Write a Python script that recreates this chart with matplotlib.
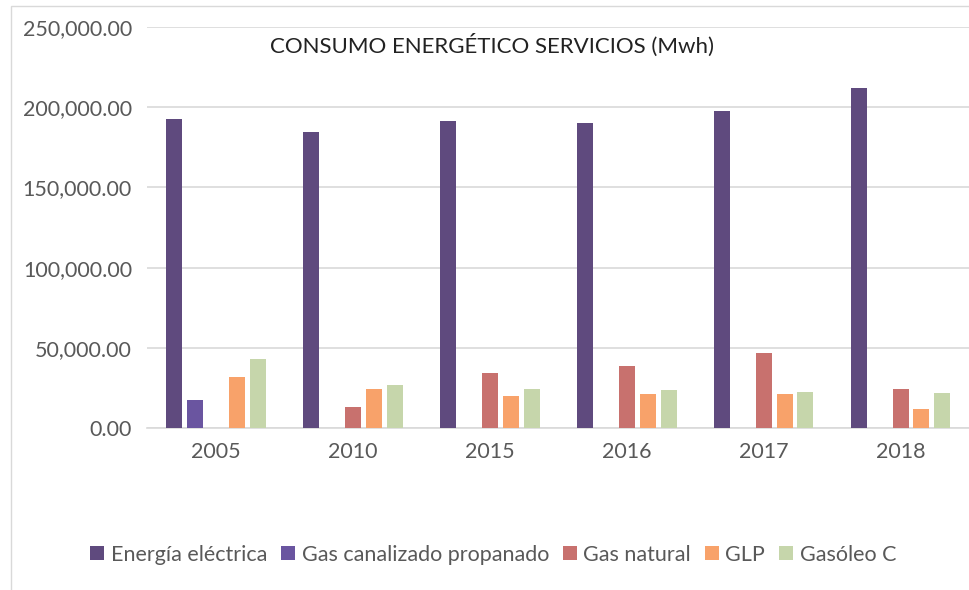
import matplotlib
matplotlib.use("Agg")
import matplotlib.pyplot as plt
import numpy as np
from matplotlib.ticker import FuncFormatter
from matplotlib.patches import Rectangle

plt.rcParams['font.family'] = ['Lato', 'DejaVu Sans']

years = ["2005", "2010", "2015", "2016", "2017", "2018"]
series_names = ["Energía eléctrica", "Gas canalizado propanado", "Gas natural", "GLP", "Gasóleo C"]
energia_electrica = [192600, 184700, 191600, 190300, 197800, 211800]
gas_canalizado = [17500, 0, 0, 0, 0, 0]
gas_natural = [0, 13300, 34100, 38700, 46900, 24100]
glp = [32000, 24100, 20000, 21200, 21000, 11600]
gasoleo_c = [43000, 26800, 24100, 23700, 22700, 21600]
colors = ["#5F4A7E", "#6A55A0", "#C8716E", "#F8A26A", "#C6D6AB"]

series = [energia_electrica, gas_canalizado, gas_natural, glp, gasoleo_c]

fig = plt.figure(figsize=(9.69, 5.90), dpi=100)
ax = fig.add_axes([0.152, 0.2746, 0.848, 0.6794])

x = np.arange(len(years))
slot = 0.153
width = 0.117
for i, (vals, name, c) in enumerate(zip(series, series_names, colors)):
    offs = (i - 2) * slot
    ax.bar(x + offs, vals, width=width, color=c, label=name, zorder=3)

ax.set_xlim(-0.5, len(years) - 0.5)
ax.set_ylim(0, 250000)
ax.set_yticks(np.arange(0, 250001, 50000))
ax.yaxis.set_major_formatter(FuncFormatter(lambda v, p: f"{v:,.2f}"))
ax.set_xticks(x)
ax.set_xticklabels(years)
ax.grid(axis='y', color='#D9D9D9', linewidth=1.2, zorder=0)
for s in ['left', 'right', 'top']:
    ax.spines[s].set_visible(False)
ax.spines['bottom'].set_color('#D9D9D9')
ax.spines['bottom'].set_linewidth(1.2)
ax.tick_params(axis='both', length=0, labelsize=15.5, colors='#595959', pad=10)
ax.tick_params(axis='y', pad=11)

ax.text(0.42, 0.955, "CONSUMO ENERGÉTICO SERVICIOS (Mwh)", transform=ax.transAxes,
        ha='center', va='center', fontsize=16, color='#222222')

leg = fig.legend(loc='center', bbox_to_anchor=(0.509, 0.06), ncol=5, frameon=False,
                 fontsize=15.5, handlelength=0.65, handleheight=0.65, handletextpad=0.3,
                 columnspacing=0.65, labelcolor='#595959')

fig.add_artist(Rectangle((0.011, -0.05), 1.2, 1.04, transform=fig.transFigure,
                         fill=False, edgecolor='#D9D9D9', linewidth=1.0))

fig.savefig("out.png", dpi=100)
